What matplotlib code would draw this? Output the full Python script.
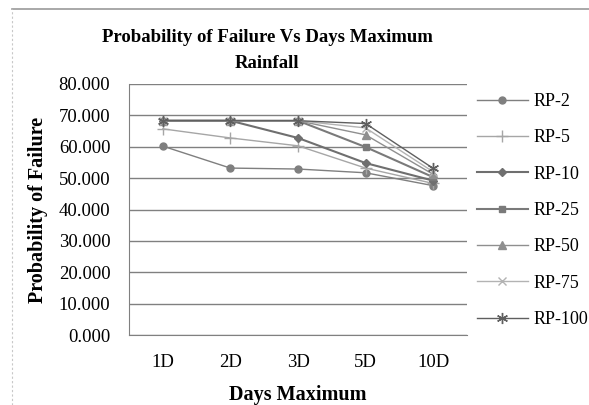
import numpy as np
import matplotlib.pyplot as plt
from matplotlib.lines import Line2D

days = ["1D", "2D", "3D", "5D", "10D"]
rp_2 = [60.2, 53.2, 52.9, 51.7, 47.6]
rp_5 = [65.7, 62.8, 60.3, 53.2, 48.3]
rp_10 = [68.3, 68.3, 62.8, 54.8, 49.2]
rp_25 = [68.3, 68.3, 68.3, 59.9, 50.3]
rp_50 = [68.3, 68.3, 68.3, 63.8, 51.2]
rp_75 = [68.3, 68.3, 68.3, 66.0, 52.0]
rp_100 = [68.3, 68.3, 68.3, 67.4, 53.1]

series = [
    ("RP-2", rp_2, "o", "#7f7f7f", 1.0, 5),
    ("RP-5", rp_5, "+", "#a6a6a6", 1.0, 8),
    ("RP-10", rp_10, "D", "#6f6f6f", 1.5, 4),
    ("RP-25", rp_25, "s", "#7a7a7a", 1.5, 5),
    ("RP-50", rp_50, "^", "#8f8f8f", 1.0, 6),
    ("RP-75", rp_75, "x", "#b3b3b3", 1.0, 6),
    ("RP-100", rp_100, (6, 2, 0), "#5f5f5f", 1.0, 8),
]

plt.rcParams['font.family'] = ['Liberation Serif', 'DejaVu Serif']

fig = plt.figure(figsize=(5.89, 4.05), dpi=100)
ax = fig.add_axes([129 / 589, 70 / 405, 338 / 589, 251 / 405])

x = np.arange(len(days))
for name, vals, mk, col, lw, ms in series:
    ax.plot(x, vals, marker=mk, color=col, lw=lw, ms=ms, mew=1.0,
            label=name, zorder=3)

ax.set_xlim(-0.5, len(days) - 0.5)
ax.set_ylim(0, 80)
ax.set_yticks(np.arange(0, 81, 10))
ax.set_yticklabels([f"{v:.3f}" for v in np.arange(0, 81, 10)], fontsize=13.5)
ax.set_xticks(x)
ax.set_xticklabels(days, fontsize=13.5)
ax.tick_params(axis='y', length=0, pad=13.5)
ax.tick_params(axis='x', length=0, pad=14)
ax.grid(axis='y', color='#808080', lw=1.0)
ax.set_axisbelow(True)
for s in ["top", "right"]:
    ax.spines[s].set_visible(False)
ax.spines["left"].set_color('#808080')
ax.spines["bottom"].set_color('#808080')

ax.set_xlabel("Days Maximum", fontsize=14.5, fontweight='bold', labelpad=10)
ax.set_ylabel("Probability of Failure", fontsize=14.5, fontweight='bold', labelpad=8)
fig.text(267 / 589, 1 - 50.5 / 405, "Probability of Failure Vs Days Maximum\nRainfall",
         ha='center', va='center', fontsize=13.5, fontweight='bold',
         linespacing=1.65)

ax.legend(loc='upper left', bbox_to_anchor=(477 / 589, 1 - 93 / 405),
          bbox_transform=fig.transFigure, frameon=False, borderpad=0,
          borderaxespad=0, fontsize=13, handlelength=2.8,
          labelspacing=1.07, handletextpad=0.33)

# chart border
fig.add_artist(Line2D([12 / 589, 1], [1 - 9 / 405, 1 - 9 / 405],
                      transform=fig.transFigure, color='#9a9a9a', lw=1.2))
fig.add_artist(Line2D([12 / 589, 12 / 589], [0, 1 - 9 / 405],
                      transform=fig.transFigure, color='#c8c8c8', lw=0.8,
                      ls=(0, (2, 2))))

fig.savefig("out.png", dpi=100)
